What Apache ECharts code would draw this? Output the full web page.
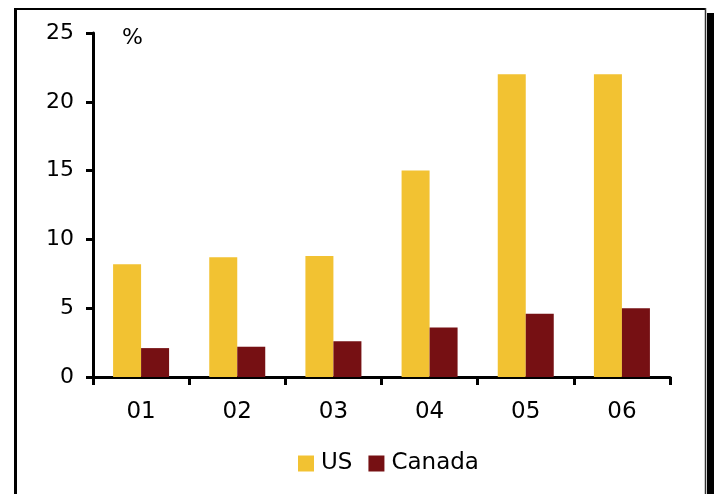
<!DOCTYPE html>
<html>
<head>
<meta charset="utf-8">
<script src="https://cdn.jsdelivr.net/npm/echarts@6/dist/echarts.min.js"></script>
<style>
  html, body { margin: 0; padding: 0; background: #fff; }
  #chart { width: 714px; height: 494px; }
</style>
</head>
<body>
<div id="chart"></div>
<script>
const years = ['01', '02', '03', '04', '05', '06']
const usShare = [8.2, 8.7, 8.8, 15.0, 22.0, 22.0]
const canadaShare = [2.1, 2.2, 2.6, 3.6, 4.6, 5.0]
const yTicks = { min: 0, max: 25, interval: 5 }

const font = 'Verdana, "DejaVu Sans", sans-serif'
const chart = echarts.init(document.getElementById('chart'))

const option = {
  animation: false,
  backgroundColor: '#fff',
  textStyle: { fontFamily: font, color: '#000' },
  grid: { left: 93, right: 44, top: 33, bottom: 117 },
  legend: {
    top: 447,
    left: 293,
    itemWidth: 16,
    itemHeight: 16,
    itemGap: 16,
    icon: 'rect',
    textStyle: { fontFamily: font, fontSize: 23, color: '#000', padding: [0, 0, 0, 2] },
    data: ['US', 'Canada']
  },
  xAxis: {
    type: 'category',
    data: years,
    axisLine: { lineStyle: { color: '#000', width: 3 } },
    axisTick: { show: true, length: 8, inside: false, lineStyle: { color: '#000', width: 3 } },
    axisLabel: { fontFamily: font, fontSize: 23, color: '#000', margin: 24 },
    splitLine: { show: false }
  },
  yAxis: {
    type: 'value',
    min: yTicks.min,
    max: yTicks.max,
    interval: yTicks.interval,
    axisLine: { show: true, lineStyle: { color: '#000', width: 3 } },
    axisTick: { show: true, length: 7, lineStyle: { color: '#000', width: 3 } },
    axisLabel: { fontFamily: font, fontSize: 22, color: '#000', margin: 19 },
    splitLine: { show: false }
  },
  series: [
    {
      name: 'US',
      type: 'bar',
      data: usShare,
      barWidth: 28,
      barGap: '0%',
      itemStyle: { color: '#F2C232' }
    },
    {
      name: 'Canada',
      type: 'bar',
      data: canadaShare,
      barWidth: 28,
      itemStyle: { color: '#761013' }
    }
  ],
  graphic: [
    // outer frame
    { type: 'line', shape: { x1: 15.5, y1: 9, x2: 15.5, y2: 494 }, style: { stroke: '#000', lineWidth: 3 } },
    { type: 'line', shape: { x1: 14, y1: 9, x2: 706, y2: 9 }, style: { stroke: '#000', lineWidth: 2 } },
    { type: 'line', shape: { x1: 705.5, y1: 8, x2: 705.5, y2: 494 }, style: { stroke: '#333', lineWidth: 1.5 } },
    { type: 'rect', shape: { x: 707, y: 13, width: 7, height: 481 }, style: { fill: '#000' } },
    // unit label
    { type: 'text', left: 122, top: 27, style: { text: '%', font: '22px ' + font, fill: '#000' } }
  ]
}

chart.setOption(option)
</script>
</body>
</html>
